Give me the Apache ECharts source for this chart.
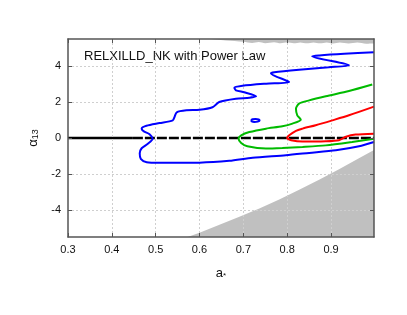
<!DOCTYPE html>
<html><head><meta charset="utf-8">
<script src="https://cdn.jsdelivr.net/npm/echarts@6/dist/echarts.min.js"></script>
<style>html,body{margin:0;padding:0;background:#fff}#c{width:407px;height:315px}</style>
</head><body><div id="c"></div>
<script>
// axis ticks
const xTicks = [0.3, 0.4, 0.5, 0.6, 0.7, 0.8, 0.9];
const yTicks = [-4, -2, 0, 2, 4];
const xGrid = [0.4, 0.5, 0.6, 0.7, 0.8, 0.9];
const yGrid = [-4, -2, 2, 4];
const xRange = [0.3, 0.998];
const yRange = [-5.5, 5.5];

// contour (blue, outer)
const blueContour = [[0.998,-0.22],[0.964,-0.46],[0.911,-0.68],[0.85,-0.83],[0.797,-0.96],[0.721,-1.10],[0.668,-1.27],[0.6,-1.37],[0.509,-1.38],[0.4795,-1.35],[0.466,-1.16],[0.4636,-0.85],[0.468,-0.57],[0.482,-0.32],[0.493,-0.04],[0.486,0.21],[0.473,0.37],[0.468,0.52],[0.479,0.68],[0.509,0.83],[0.539,0.98],[0.543,1.17],[0.548,1.43],[0.570,1.54],[0.6,1.57],[0.6295,1.71],[0.645,2.0],[0.683,2.18],[0.714,2.24],[0.729,2.32],[0.702,2.54],[0.683,2.65],[0.6795,2.79],[0.698,2.9],[0.752,3.02],[0.8045,3.11],[0.763,3.59],[0.7705,3.65],[0.827,3.79],[0.895,3.93],[0.941,4.04],[0.857,4.54],[0.873,4.59],[0.93,4.68],[0.998,4.76]];
const blueIsland = [[0.718,0.97],[0.721,1.04],[0.728,1.06],[0.735,1.03],[0.737,0.97],[0.733,0.91],[0.725,0.89],[0.719,0.92],[0.718,0.97]];
// contour (green)
const greenContour = [[0.994,2.97],[0.941,2.61],[0.888,2.32],[0.85,2.09],[0.827,1.91],[0.82,1.63],[0.823,1.26],[0.831,1.02],[0.812,0.80],[0.789,0.65],[0.7516,0.52],[0.7136,0.33],[0.695,0.15],[0.689,-0.03],[0.695,-0.28],[0.709,-0.46],[0.7516,-0.59],[0.789,-0.56],[0.835,-0.5],[0.888,-0.41],[0.948,-0.22],[0.998,-0.04]];
// contour (red)
const redContour = [[0.998,1.74],[0.941,1.26],[0.903,0.98],[0.865,0.71],[0.835,0.52],[0.82,0.4],[0.8045,0.15],[0.8,0],[0.809,-0.12],[0.835,-0.2],[0.888,-0.18],[0.918,-0.12],[0.934,0.07],[0.956,0.19],[0.998,0.24]];
// excluded regions (grey)
const excludedLow = [[0.5727,-5.5],[0.6,-5.27],[0.6455,-4.82],[0.6909,-4.38],[0.7364,-3.91],[0.7818,-3.41],[0.8273,-2.88],[0.8727,-2.32],[0.9182,-1.74],[0.9636,-1.13],[0.998,-0.66]];
const excludedTop = [[0.62,5.5],[0.66,5.42],[0.70,5.35],[0.72,5.28],[0.735,5.33],[0.75,5.27],[0.77,5.32],[0.785,5.26],[0.80,5.3],[0.815,5.26],[0.83,5.31],[0.845,5.26],[0.86,5.31],[0.875,5.26],[0.89,5.31],[0.905,5.25],[0.92,5.3],[0.94,5.25],[0.96,5.3],[0.98,5.24],[0.998,5.25]];
// Kerr line alpha13 = 0
const kerrSolid = [[0.3,0],[0.448,0]];
const kerrDashed = [[0.448,0],[0.998,0]];

const FONT = '"Liberation Sans", Arial, Helvetica, sans-serif';
const frame = {show:true, onZero:false, lineStyle:{color:'#555', width:1.5}};
const chart = echarts.init(document.getElementById('c'), null, {renderer:'canvas'});

function lineS(data, color, width, z, extra) {
  return Object.assign({type:'line', data, showSymbol:false, symbol:'none', smooth:0.25,
    lineStyle:{color, width}, z, silent:true, animation:false, clip:true}, extra||{});
}

chart.setOption({
  animation:false,
  textStyle:{fontFamily:FONT},
  grid:{left:68, top:39, right:33, bottom:78, containLabel:false},
  xAxis:[
    {type:'value', min:xRange[0], max:xRange[1], position:'bottom', axisLine:frame, z:10,
     axisTick:{show:true, inside:true, length:4, customValues:xTicks, lineStyle:{color:'#555'}},
     axisLabel:{customValues:xTicks, formatter:v=>v.toFixed(1), color:'#111', fontSize:11, margin:7, fontFamily:FONT},
     splitLine:{show:false},
     name:'{a|a}{s|*}', nameLocation:'middle', nameGap:30,
     nameTextStyle:{rich:{a:{fontSize:13, color:'#111', fontFamily:FONT}, s:{fontSize:8, color:'#111', fontFamily:FONT, padding:[4,0,0,0]}}}},
    {type:'value', min:xRange[0], max:xRange[1], position:'top', axisLine:frame, z:10,
     axisTick:{show:true, inside:true, length:4, customValues:xTicks, lineStyle:{color:'#555'}},
     axisLabel:{show:false}, splitLine:{show:false}}
  ],
  yAxis:[
    {type:'value', min:yRange[0], max:yRange[1], position:'left', axisLine:frame, z:10,
     axisTick:{show:true, inside:true, length:4, customValues:yTicks, lineStyle:{color:'#555'}},
     axisLabel:{customValues:yTicks, color:'#111', fontSize:11, margin:7, fontFamily:FONT},
     splitLine:{show:false},
     name:'{a|α}{s|13}', nameLocation:'middle', nameGap:26, nameRotate:90,
     nameTextStyle:{rich:{a:{fontSize:13, color:'#111', fontFamily:FONT}, s:{fontSize:9, color:'#111', fontFamily:FONT, padding:[5,0,0,0]}}}},
    {type:'value', min:yRange[0], max:yRange[1], position:'right', axisLine:frame, z:10,
     axisTick:{show:true, inside:true, length:4, customValues:yTicks, lineStyle:{color:'#555'}},
     axisLabel:{show:false}, splitLine:{show:false}}
  ],
  graphic:[{type:'text', left:84, top:50, silent:true,
    style:{text:'RELXILLD_NK with Power Law', fontSize:13, fontFamily:FONT, fill:'#111'}}],
  series:[
    {type:'line', data:[], z:1, silent:true, animation:false,
     markLine:{silent:true, symbol:['none','none'], label:{show:false}, animation:false,
       lineStyle:{color:'#cfcfcf', type:[2,2], width:1},
       data:[...xGrid.map(v=>({xAxis:v})), ...yGrid.map(v=>({yAxis:v}))]}},
    lineS(excludedLow, '#c0c0c0', 0, 2, {smooth:false, areaStyle:{color:'#c0c0c0', opacity:1, origin:'start'}}),
    lineS(excludedTop, '#c0c0c0', 0, 2, {smooth:0.3, areaStyle:{color:'#c0c0c0', opacity:1, origin:'end'}}),
    lineS(kerrSolid, '#000', 2.5, 3, {smooth:false}),
    lineS(kerrDashed, '#000', 2.5, 3, {smooth:false, lineStyle:{color:'#000', width:2.5, type:[10,2]}}),
    lineS(blueContour, '#0000ff', 2, 5),
    lineS(blueIsland, '#0000ff', 2, 5, {smooth:0.5}),
    lineS(greenContour, '#00bb00', 2, 5),
    lineS(redContour, '#ff0000', 2, 5)
  ]
});
</script></body></html>
